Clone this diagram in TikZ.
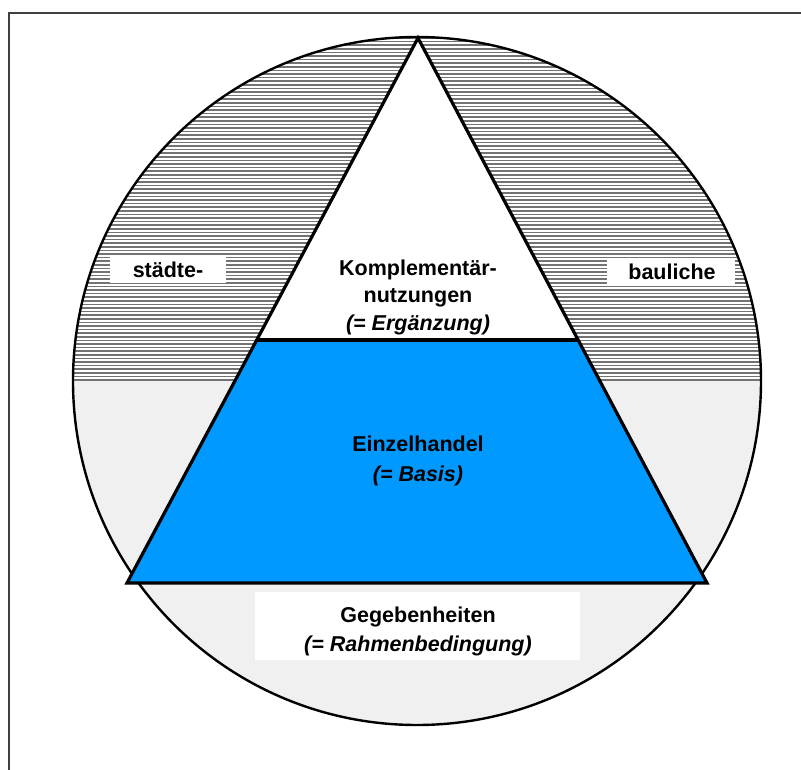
\documentclass[tikz,border=0pt]{standalone}
\usepackage{fontspec}
\setmainfont{Liberation Sans}
\begin{document}
\begin{tikzpicture}[x=1pt,y=-1pt,
  lbl/.style={font=\fontsize{21.5}{27}\selectfont\bfseries, align=center, inner sep=0pt},
  whitebox/.style={fill=white, draw=none},
  hatchline/.style={draw=black!55, line width=1.5pt},
  outline/.style={draw=black, line width=3.2pt, line join=miter}]
\useasboundingbox (0,0) rectangle (801,769);
\fill[white] (0,0) rectangle (801,769);
% frame
\draw[line width=1.4pt, black!75] (9,800) -- (9,13) -- (820,13);
% circle geometry
\coordinate (C) at (417,381);
% lower half: light dotted
\fill[black!6] (761,381) arc[start angle=0, end angle=180, radius=344] -- cycle;
% upper half: horizontal hatching
\begin{scope}
  \clip (73,381) arc[start angle=180, end angle=360, radius=344] -- cycle;
  \foreach \yy in {38,41.6,...,382} { \draw[hatchline] (60,\yy) -- (780,\yy); }
\end{scope}
% triangle
\coordinate (A) at (418,38);
\coordinate (BL) at (127,583);
\coordinate (BR) at (707,583);
\coordinate (TL) at (256.8,340);
\coordinate (TR) at (578.1,340);
\fill[white] (A) -- (BL) -- (BR) -- cycle;
\fill[whitebox] (255,592) rectangle (580,660);
\fill[whitebox] (110,257) rectangle (226,283);
\fill[whitebox] (607,258) rectangle (735,285);
% circle outline
\draw[line width=2.4pt] (C) circle[radius=344];
% blue trapezoid
\fill[fill={rgb,255:red,0;green,153;blue,255}] (TL) -- (TR) -- (BR) -- (BL) -- cycle;
\draw[outline] (TL) -- (TR);
\draw[outline] (A) -- (BL) -- (BR) -- cycle;
% labels
\node[lbl] (top) at (418,297) {Komplementär-\\nutzungen\\[1pt]\textit{(= Ergänzung)}};
\node[lbl] (mid) at (418,461) {Einzelhandel\\[3pt]\textit{(= Basis)}};
\node[lbl] (bot) at (418,631) {Gegebenheiten\\[2pt]\textit{(= Rahmenbedingung)}};
\node[lbl, anchor=base] (left) at (168,277) {städte-};
\node[lbl, anchor=base] (right) at (672,279) {bauliche};
\end{tikzpicture}
\end{document}
